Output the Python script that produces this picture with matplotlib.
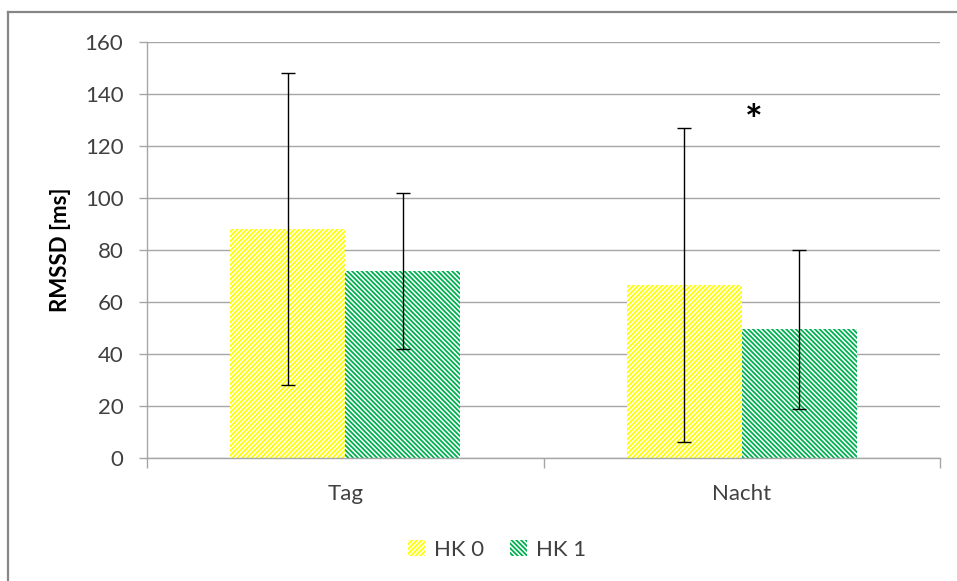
import matplotlib
matplotlib.use("Agg")
import matplotlib.pyplot as plt
from matplotlib.lines import Line2D
from matplotlib.patches import Patch
import numpy as np

plt.rcParams['font.family'] = ['Lato', 'DejaVu Sans']
plt.rcParams['hatch.linewidth'] = 1.3

# RMSSD means and standard deviations per group
categories = ['Tag', 'Nacht']
groups = ['HK 0', 'HK 1']
hk0_mean = [88, 66.5]
hk0_sd = [60, 60.5]
hk1_mean = [72, 49.5]
hk1_sd = [30, 30.5]
star_pos = (1.03, 129)

yellow = '#FFFF00'
green = '#00B050'
grid_col = '#A6A6A6'
text_col = '#404040'
h0 = '///////'
h1 = '\\\\\\\\\\\\\\'

fig = plt.figure(figsize=(9.57, 5.81), dpi=100)
ax = fig.add_axes([147/957, 1-458/581, (940-147)/957, (458-42)/581])

x = np.arange(len(categories))
w = 0.29
ax.bar(x - w/2, hk0_mean, w, color='white', edgecolor=yellow, hatch=h0,
       linewidth=0, zorder=2)
ax.bar(x + w/2, hk1_mean, w, color='white', edgecolor=green, hatch=h1,
       linewidth=0, zorder=2)
ax.errorbar(x - w/2, hk0_mean, yerr=hk0_sd, fmt='none', ecolor='black',
            elinewidth=1, capsize=4.7, capthick=1, zorder=3)
ax.errorbar(x + w/2, hk1_mean, yerr=hk1_sd, fmt='none', ecolor='black',
            elinewidth=1, capsize=4.7, capthick=1, zorder=3)

ax.text(star_pos[0], star_pos[1], '*', ha='center', va='center',
        fontsize=30, fontweight='bold', color='black')

ax.set_xlim(-0.5, 1.5)
ax.set_ylim(0, 160)
ax.set_yticks(np.arange(0, 161, 20))
ax.yaxis.grid(True, color=grid_col, linewidth=1)
ax.set_axisbelow(True)

# tick marks on the category borders, labels in the middle
ax.set_xticks([-0.5, 0.5, 1.5])
ax.set_xticklabels([])
ax.set_xticks(x, minor=True)
ax.set_xticklabels(categories, minor=True)
ax.tick_params(axis='x', which='major', length=7, color=grid_col, width=1)
ax.tick_params(axis='x', which='minor', length=0, pad=19, labelsize=16,
               labelcolor=text_col)
ax.tick_params(axis='y', length=6, color=grid_col, width=1, pad=11,
               labelsize=16, labelcolor=text_col)

for s in ['top', 'right']:
    ax.spines[s].set_visible(False)
for s in ['left', 'bottom']:
    ax.spines[s].set_color(grid_col)
    ax.spines[s].set_linewidth(1)

ax.set_ylabel('RMSSD [ms]', fontsize=16, fontweight='bold', color='black',
              labelpad=10)

handles = [Patch(facecolor='white', edgecolor=yellow, hatch=h0, linewidth=0),
           Patch(facecolor='white', edgecolor=green, hatch=h1, linewidth=0)]
fig.legend(handles, groups, loc='center', bbox_to_anchor=(497/957, 1-550/581),
           ncol=2, frameon=False, fontsize=16, handlelength=0.75,
           handleheight=0.75, handletextpad=0.4, columnspacing=1.2,
           labelcolor=text_col)

# chart area border
fig.add_artist(Line2D([8/957, 1], [1-12/581, 1-12/581], color='#868686',
                      linewidth=1.6, transform=fig.transFigure))
fig.add_artist(Line2D([8/957, 8/957], [0, 1-12/581], color='#868686',
                      linewidth=1.6, transform=fig.transFigure))

fig.savefig('out.png', dpi=100)
